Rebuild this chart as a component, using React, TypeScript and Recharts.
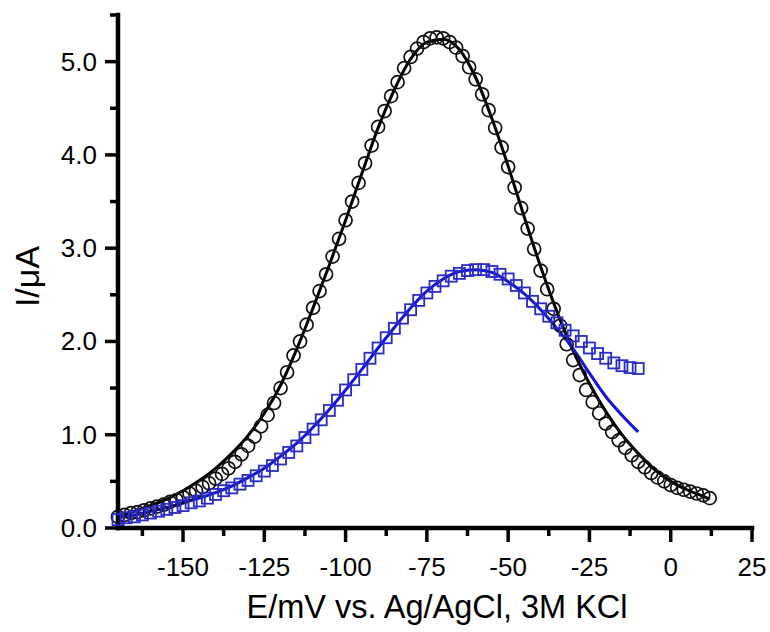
import React from "react"
import { ComposedChart, Line, Scatter, XAxis, YAxis } from "recharts"

// potentials (mV) and currents (uA)
const circleE = [
  -170, -168, -166, -164, -162, -160, -158, -156, -154, -152, -150, -148, -146, -144, -142, -140,
  -138, -136, -134, -132, -130, -128, -126, -124, -122, -120, -118, -116, -114, -112, -110, -108,
  -106, -104, -102, -100, -98, -96, -94, -92, -90, -88, -86, -84, -82, -80, -78, -76, -74, -72,
  -70, -68, -66, -64, -62, -60, -58, -56, -54, -52, -50, -48, -46, -44, -42, -40, -38, -36, -34,
  -32, -30, -28, -26, -24, -22, -20, -18, -16, -14, -12, -10, -8, -6, -4, -2, 0, 2, 4, 6, 8, 10, 12,
]
const circleI = [
  0.12, 0.14, 0.16, 0.17, 0.19, 0.21, 0.23, 0.25, 0.28, 0.3, 0.33, 0.37, 0.4, 0.44, 0.48, 0.53,
  0.58, 0.64, 0.71, 0.79, 0.88, 0.98, 1.09, 1.21, 1.34, 1.5, 1.67, 1.85, 2.0, 2.18, 2.36, 2.54,
  2.72, 2.91, 3.1, 3.3, 3.5, 3.7, 3.91, 4.1, 4.3, 4.47, 4.63, 4.78, 4.93, 5.05, 5.14, 5.21, 5.25, 5.26,
  5.25, 5.21, 5.15, 5.06, 4.94, 4.81, 4.65, 4.48, 4.29, 4.08, 3.87, 3.65, 3.43, 3.21, 2.99, 2.76, 2.56, 2.35, 2.17,
  1.97, 1.8, 1.64, 1.48, 1.35, 1.23, 1.12, 1.03, 0.94, 0.86, 0.78, 0.71, 0.65, 0.59, 0.54, 0.5, 0.46, 0.43, 0.41, 0.39, 0.37, 0.35, 0.32,
]

const squareE = [
  -170, -167.5, -165, -162.5, -160, -157.5, -155, -152.5, -150, -147.5, -145, -142.5, -140, -137.5,
  -135, -132.5, -130, -127.5, -125, -122.5, -120, -117.5, -115, -112.5, -110, -107.5, -105, -102.5,
  -100, -97.5, -95, -92.5, -90, -87.5, -85, -82.5, -80, -77.5, -75, -72.5, -70, -67.5, -65, -62.5,
  -60, -57.5, -55, -52.5, -50, -47.5, -45, -42.5, -40, -37.5, -35, -32.5, -30, -27.5, -25, -22.5,
  -20, -17.5, -15, -12.5, -10,
]
const squareI = [
  0.09, 0.11, 0.12, 0.14, 0.16, 0.18, 0.2, 0.22, 0.24, 0.27, 0.29, 0.32, 0.36, 0.4,
  0.43, 0.47, 0.51, 0.56, 0.61, 0.67, 0.74, 0.81, 0.88, 0.97, 1.06, 1.16, 1.26, 1.37,
  1.48, 1.59, 1.7, 1.82, 1.93, 2.04, 2.14, 2.25, 2.34, 2.44, 2.52, 2.59, 2.65, 2.7, 2.73, 2.76,
  2.77, 2.77, 2.75, 2.72, 2.67, 2.6, 2.52, 2.43, 2.35, 2.27, 2.2, 2.12, 2.06, 2.0, 1.93, 1.87,
  1.82, 1.77, 1.74, 1.72, 1.71,
]

// fitted curves
const blackFitE = [
  -170, -165, -160, -155, -150, -145, -140, -135, -130, -125, -120, -115, -110, -105, -100, -95, -90,
  -85, -80, -75, -70, -65, -60, -55, -50, -45, -40, -35, -30, -25, -20, -15, -10, -5, 0, 5, 10, 12,
]
const blackFitI = [
  0.13, 0.18, 0.24, 0.31, 0.4, 0.51, 0.64, 0.8, 0.99, 1.23, 1.53, 1.92, 2.36, 2.82, 3.3, 3.8, 4.29,
  4.7, 5.03, 5.21, 5.24, 5.13, 4.83, 4.39, 3.88, 3.33, 2.8, 2.32, 1.9, 1.55, 1.25, 1.0, 0.8, 0.63, 0.5, 0.41, 0.34, 0.31,
]

const blueFitE = [
  -170, -165, -160, -155, -150, -145, -140, -135, -130, -125, -120, -115, -110, -105, -100, -95, -90,
  -85, -80, -75, -70, -65, -60, -55, -50, -45, -40, -35, -30, -25, -20, -15, -10,
]
const blueFitI = [
  0.11, 0.14, 0.18, 0.22, 0.27, 0.32, 0.38, 0.45, 0.54, 0.64, 0.77, 0.91, 1.08, 1.27, 1.48, 1.7, 1.93,
  2.15, 2.36, 2.54, 2.67, 2.75, 2.77, 2.74, 2.64, 2.51, 2.34, 2.14, 1.92, 1.66, 1.41, 1.21, 1.03,
]

const xMajorTicks = [-150, -125, -100, -75, -50, -25, 0, 25]
const xMinorTicks = [-162.5, -137.5, -112.5, -87.5, -62.5, -37.5, -12.5, 12.5]
const yMajorTicks = [0, 1, 2, 3, 4, 5]
const yMinorTicks = [0.5, 1.5, 2.5, 3.5, 4.5, 5.5]

const pairs = (xs: number[], ys: number[]) => xs.map((E, i) => ({ E, I: ys[i] }))

const circles = pairs(circleE, circleI)
const squares = pairs(squareE, squareI)
const blackFit = pairs(blackFitE, blackFitI)
const blueFit = pairs(blueFitE, blueFitI)

const FONT = '"Liberation Sans", Arial, sans-serif'
const BLUE_MARK = "#2a2ac4"
const BLUE_LINE = "#1414d8"

function XTick(props: any) {
  const { x, y, payload } = props
  const major = xMajorTicks.includes(payload.value)
  return (
    <g>
      <line x1={x} x2={x} y1={y} y2={y + (major ? 14 : 8)} stroke="#000" strokeWidth={3.5} />
      {major && (
        <text x={x} y={y + 48} textAnchor="middle" fontSize={26} fontFamily={FONT} fill="#000">
          {payload.value}
        </text>
      )}
    </g>
  )
}

function YTick(props: any) {
  const { x, y, payload } = props
  const major = yMajorTicks.includes(payload.value)
  return (
    <g>
      <line x1={x} x2={x - (major ? 13 : 8)} y1={y} y2={y} stroke="#000" strokeWidth={3.5} />
      {major && (
        <text x={x - 21} y={y + 9} textAnchor="end" fontSize={26} fontFamily={FONT} fill="#000">
          {payload.value.toFixed(1)}
        </text>
      )}
    </g>
  )
}

const OpenCircle = (props: any) => (
  <circle cx={props.cx} cy={props.cy} r={6.5} fill="none" stroke="#111" strokeWidth={1.7} />
)

const OpenSquare = (props: any) => (
  <rect x={props.cx - 5.5} y={props.cy - 5.5} width={11} height={11} fill="none" stroke={BLUE_MARK} strokeWidth={1.8} />
)

export default function App() {
  return (
    <div style={{ position: "absolute", left: 0, top: 0, background: "#fff" }}>
      <ComposedChart width={770} height={632} margin={{ top: 15, right: 18, left: 0, bottom: 0 }}>
        <XAxis
          dataKey="E"
          type="number"
          domain={[-170, 25]}
          ticks={[...xMinorTicks, ...xMajorTicks].sort((a, b) => a - b)}
          interval={0}
          height={104}
          tickSize={0}
          tickMargin={0}
          tickLine={false}
          tick={<XTick />}
          axisLine={{ stroke: "#000", strokeWidth: 4.5, strokeLinecap: "square" }}
          label={{
            content: (p: any) => (
              <text
                x={p.viewBox.x + p.viewBox.width / 2 + 2}
                y={p.viewBox.y + 90}
                textAnchor="middle"
                fontSize={32.5}
                fontFamily={FONT}
                fill="#000"
              >
                E/mV vs. Ag/AgCl, 3M KCl
              </text>
            ),
          }}
        />
        <YAxis
          dataKey="I"
          type="number"
          domain={[0, 5.5]}
          ticks={[...yMinorTicks, ...yMajorTicks].sort((a, b) => a - b)}
          interval={0}
          width={118}
          tickSize={0}
          tickMargin={0}
          tickLine={false}
          tick={<YTick />}
          axisLine={{ stroke: "#000", strokeWidth: 4.5, strokeLinecap: "square" }}
          label={{
            content: (p: any) => {
              const cx = p.viewBox.x + 27
              const cy = p.viewBox.y + p.viewBox.height / 2 + 5
              return (
                <text
                  x={cx}
                  y={cy}
                  transform={`rotate(-90 ${cx} ${cy})`}
                  textAnchor="middle"
                  dominantBaseline="central"
                  fontSize={34}
                  fontFamily={FONT}
                  fill="#000"
                >
                  I/μA
                </text>
              )
            },
          }}
        />
        <Scatter data={circles} dataKey="I" shape={<OpenCircle />} isAnimationActive={false} />
        <Scatter data={squares} dataKey="I" shape={<OpenSquare />} isAnimationActive={false} />
        <Line
          data={blackFit}
          dataKey="I"
          type="monotone"
          stroke="#000"
          strokeWidth={3}
          dot={false}
          activeDot={false}
          isAnimationActive={false}
        />
        <Line
          data={blueFit}
          dataKey="I"
          type="monotone"
          stroke={BLUE_LINE}
          strokeWidth={3}
          dot={false}
          activeDot={false}
          isAnimationActive={false}
        />
      </ComposedChart>
    </div>
  )
}
